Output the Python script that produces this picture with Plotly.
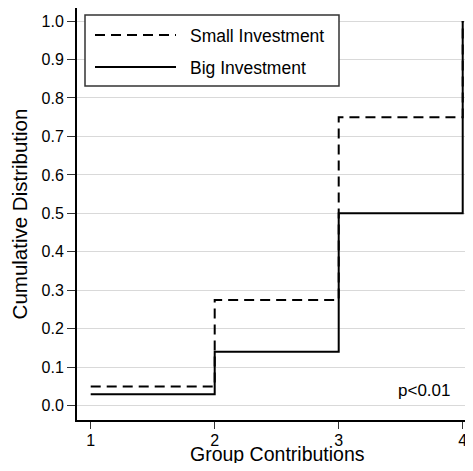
import plotly.graph_objects as go

contributions = [1, 2, 3, 4]
small_investment = [0.05, 0.275, 0.75, 1.0]
big_investment = [0.03, 0.14, 0.50, 1.0]
y_ticks = [0.0, 0.1, 0.2, 0.3, 0.4, 0.5, 0.6, 0.7, 0.8, 0.9, 1.0]
series_names = ["Small Investment", "Big Investment"]
x_title = "Group Contributions"
y_title = "Cumulative Distribution"
p_text = "p<0.01"

FONT = "Liberation Sans, Arial, Helvetica, sans-serif"

# The page body has an 8px margin, so the figure is sized to fit the window
OFF = 8
W, H = 465, 455
L, R, T, B = 69, 0, 0, 43
pw, ph = W - L - R, H - T - B


def px(x):
    return (x - OFF - L) / pw


def py(y):
    return (T + ph - (y - OFF)) / ph


fig = go.Figure()
fig.add_trace(go.Scatter(
    x=contributions, y=small_investment, mode="lines", line_shape="hv",
    name=series_names[0], showlegend=False,
    line=dict(color="black", width=2, dash="10px,6px"),
))
fig.add_trace(go.Scatter(
    x=contributions, y=big_investment, mode="lines", line_shape="hv",
    name=series_names[1], showlegend=False,
    line=dict(color="black", width=2),
))

shapes = [
    dict(type="rect", xref="paper", yref="paper",
         x0=px(85), x1=px(339), y0=py(86), y1=py(15),
         line=dict(color="#333333", width=1.5), fillcolor="white", layer="above"),
    dict(type="line", xref="paper", yref="paper",
         x0=px(95), x1=px(176), y0=py(35), y1=py(35),
         line=dict(color="black", width=2, dash="10px,6px"), layer="above"),
    dict(type="line", xref="paper", yref="paper",
         x0=px(95), x1=px(176), y0=py(67), y1=py(67),
         line=dict(color="black", width=2), layer="above"),
]

annotations = [
    dict(text=series_names[0], xref="paper", yref="paper", x=px(188), y=py(36),
         xanchor="left", yanchor="middle", showarrow=False,
         font=dict(family=FONT, size=17.5, color="black")),
    dict(text=series_names[1], xref="paper", yref="paper", x=px(188), y=py(68),
         xanchor="left", yanchor="middle", showarrow=False,
         font=dict(family=FONT, size=17.5, color="black")),
    dict(text=p_text, xref="x", yref="y", x=3.69, y=0.04,
         xanchor="center", yanchor="middle", showarrow=False,
         font=dict(family=FONT, size=17, color="black")),
    dict(text=x_title, xref="paper", yref="paper", x=px(277), y=py(441),
         xanchor="center", yanchor="top", showarrow=False,
         font=dict(family=FONT, size=19.5, color="black")),
]

fig.update_layout(
    width=W, height=H,
    margin=dict(l=L, r=R, t=T, b=B, pad=0),
    paper_bgcolor="white", plot_bgcolor="white",
    font=dict(family=FONT, color="black"),
    shapes=shapes, annotations=annotations,
    showlegend=False,
)

fig.update_xaxes(
    range=[0.8895, 4.083], tickvals=contributions, ticktext=[str(c) for c in contributions],
    showgrid=False, zeroline=False,
    showline=True, linecolor="black", linewidth=2, mirror=True,
    ticks="outside", ticklen=7, tickwidth=1, tickcolor="#333333",
    tickfont=dict(family=FONT, size=16, color="black"), ticklabelstandoff=-2,
    automargin=False,
)
fig.update_yaxes(
    range=[-0.0372, 1.0339], tickvals=y_ticks, ticktext=[f"{v:.1f}" for v in y_ticks],
    showgrid=True, gridcolor="#d9d9d9", gridwidth=1, zeroline=False,
    showline=True, linecolor="black", linewidth=2, mirror=False,
    ticks="outside", ticklen=8, tickwidth=1, tickcolor="#333333",
    tickfont=dict(family=FONT, size=16, color="black"),
    title=dict(text=y_title, font=dict(family=FONT, size=20.5, color="black"), standoff=10),
    automargin=False,
)

fig.write_html("out.html")
